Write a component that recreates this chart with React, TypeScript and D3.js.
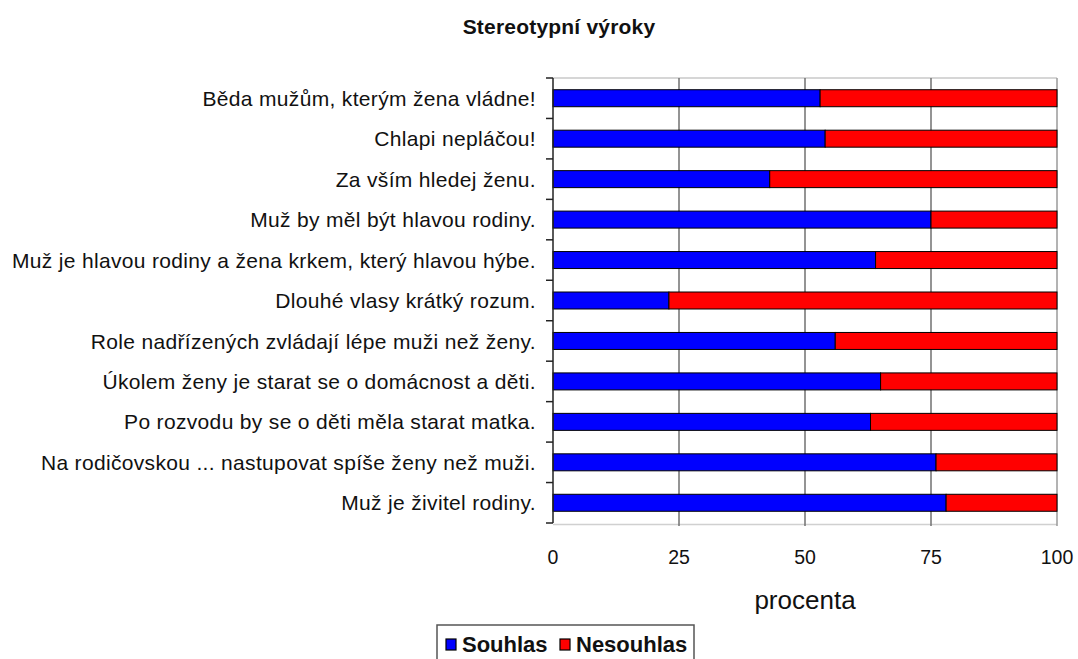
import React, { useEffect, useRef } from 'react';
import * as d3 from 'd3';

const statements = [
  'Běda mužům, kterým žena vládne!',
  'Chlapi nepláčou!',
  'Za vším hledej ženu.',
  'Muž by měl být hlavou rodiny.',
  'Muž je hlavou rodiny a žena krkem, který hlavou hýbe.',
  'Dlouhé vlasy krátký rozum.',
  'Role nadřízených zvládají lépe muži než ženy.',
  'Úkolem ženy je starat se o domácnost a děti.',
  'Po rozvodu by se o děti měla starat matka.',
  'Na rodičovskou ... nastupovat spíše ženy než muži.',
  'Muž je živitel rodiny.',
];
const souhlas = [53, 54, 43, 75, 64, 23, 56, 65, 63, 76, 78];
const nesouhlas = [47, 46, 57, 25, 36, 77, 44, 35, 37, 24, 22];
const seriesNames = ['Souhlas', 'Nesouhlas'];
const seriesColors = ['#0000ff', '#ff0000'];
const xTicks = [0, 25, 50, 75, 100];

const FONT = '"Liberation Sans", Arial, sans-serif';

export default function App() {
  const svgRef = useRef<SVGSVGElement>(null);

  useEffect(() => {
    if (!svgRef.current) return;
    const width = 1078;
    const height = 659;
    const margin = { top: 78, right: 21, bottom: 136, left: 553 };

    const svg = d3.select(svgRef.current).attr('viewBox', [0, 0, width, height]);
    svg.selectAll('*').remove();

    const x = d3.scaleLinear().domain([0, 100]).range([margin.left, width - margin.right]);
    const y = d3.scaleBand<string>()
      .domain(statements)
      .range([margin.top, height - margin.bottom])
      .paddingInner(0.58)
      .paddingOuter(0.29);
    const bandStep = y.step();
    const bottom = height - margin.bottom;

    // title
    svg.append('text')
      .attr('x', 559).attr('y', 34)
      .attr('text-anchor', 'middle')
      .attr('font-family', FONT).attr('font-weight', 'bold').attr('font-size', 21)
      .attr('letter-spacing', 0.2)
      .attr('fill', '#111')
      .text('Stereotypní výroky');

    // top border
    svg.append('line')
      .attr('x1', x(0)).attr('x2', x(100))
      .attr('y1', margin.top).attr('y2', margin.top)
      .attr('stroke', '#c8c8c8').attr('stroke-width', 1.5);
    // bottom line
    svg.append('line')
      .attr('x1', x(0)).attr('x2', x(100))
      .attr('y1', bottom + 1.5).attr('y2', bottom + 1.5)
      .attr('stroke', '#d0d0d0').attr('stroke-width', 1.5);

    // vertical grid lines
    svg.selectAll('.grid')
      .data(xTicks.slice(1))
      .enter().append('line')
      .attr('x1', d => x(d)).attr('x2', d => x(d))
      .attr('y1', margin.top).attr('y2', bottom + 3)
      .attr('stroke', d => d === 100 ? '#9a9a9a' : '#707070')
      .attr('stroke-width', 1.5);

    // bars
    const stacked = statements.map((s, i) => ({ s, vals: [souhlas[i], nesouhlas[i]] }));
    stacked.forEach(row => {
      let acc = 0;
      row.vals.forEach((v, k) => {
        svg.append('rect')
          .attr('x', x(acc))
          .attr('y', y(row.s)!)
          .attr('width', x(acc + v) - x(acc))
          .attr('height', y.bandwidth())
          .attr('fill', seriesColors[k])
          .attr('stroke', '#000')
          .attr('stroke-width', 1);
        acc += v;
      });
    });

    // left axis with ticks between categories
    svg.append('line')
      .attr('x1', x(0)).attr('x2', x(0))
      .attr('y1', margin.top).attr('y2', bottom)
      .attr('stroke', '#222').attr('stroke-width', 1.5);
    svg.selectAll('.ytick')
      .data(d3.range(statements.length + 1))
      .enter().append('line')
      .attr('x1', x(0) - 7).attr('x2', x(0))
      .attr('y1', i => margin.top + i * bandStep)
      .attr('y2', i => margin.top + i * bandStep)
      .attr('stroke', '#222').attr('stroke-width', 1.5);

    // category labels
    svg.selectAll('.ylabel')
      .data(statements)
      .enter().append('text')
      .attr('x', x(0) - 17)
      .attr('y', d => y(d)! + y.bandwidth() / 2)
      .attr('dy', '0.36em')
      .attr('text-anchor', 'end')
      .attr('font-family', FONT).attr('font-size', 21)
      .attr('letter-spacing', 0.33)
      .attr('fill', '#111')
      .text(d => d);

    // x tick labels
    svg.selectAll('.xlabel')
      .data(xTicks)
      .enter().append('text')
      .attr('x', d => x(d))
      .attr('y', 564)
      .attr('text-anchor', 'middle')
      .attr('font-family', FONT).attr('font-size', 19.5)
      .attr('fill', '#111')
      .text(d => d);

    // axis title
    svg.append('text')
      .attr('x', 805).attr('y', 609)
      .attr('text-anchor', 'middle')
      .attr('font-family', FONT).attr('font-size', 26)
      .attr('fill', '#111')
      .text('procenta');

    // legend
    const lg = svg.append('g');
    lg.append('rect')
      .attr('x', 437).attr('y', 625).attr('width', 257).attr('height', 50)
      .attr('fill', '#fff').attr('stroke', '#555').attr('stroke-width', 1.5);
    const itemX = [446, 560];
    seriesNames.forEach((n, k) => {
      lg.append('rect')
        .attr('x', itemX[k]).attr('y', 639).attr('width', 10).attr('height', 11)
        .attr('fill', seriesColors[k]).attr('stroke', '#000').attr('stroke-width', 1.2);
      lg.append('text')
        .attr('x', itemX[k] + 16).attr('y', 652)
        .attr('font-family', FONT).attr('font-weight', 'bold').attr('font-size', 22)
        .attr('fill', '#111')
        .text(n);
    });
  }, []);

  return (
    <svg
      ref={svgRef}
      width={1078}
      height={659}
      style={{ position: 'absolute', left: 0, top: 0, background: '#fff' }}
    />
  );
}
